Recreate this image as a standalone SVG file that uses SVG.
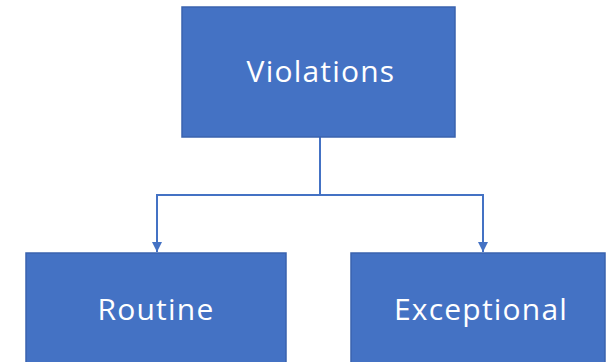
<svg xmlns="http://www.w3.org/2000/svg" width="610" height="362" viewBox="0 0 610 362">
  <defs>
    <style>
      .box { fill: #4472C4; stroke: #3A63AE; stroke-width: 1.5; }
      .label { fill: #FFFFFF; font-family: "Open Sans", "Noto Sans", sans-serif; font-size: 30px; letter-spacing: 1.2px; text-anchor: middle; }
      .link { fill: none; stroke: #4472C4; stroke-width: 2; }
    </style>
    <marker id="arrow" viewBox="0 0 10 10" refX="10" refY="5" markerWidth="5" markerHeight="5" orient="auto" markerUnits="strokeWidth">
      <path d="M0,0 L10,5 L0,10 Z" fill="#4472C4"/>
    </marker>
  </defs>

  <rect width="610" height="362" fill="#FFFFFF"/>

  <g id="connectors">
    <path class="link" d="M320,137 V195 H157 V252" marker-end="url(#arrow)"/>
    <path class="link" d="M320,195 H483 V252" marker-end="url(#arrow)"/>
  </g>

  <g id="violations">
    <rect class="box" x="182" y="7" width="273" height="130"/>
    <text class="label" x="321" y="82">Violations</text>
  </g>

  <g id="routine">
    <rect class="box" x="26" y="253" width="260" height="115"/>
    <text class="label" x="156" y="320">Routine</text>
  </g>

  <g id="exceptional">
    <rect class="box" x="351" y="253" width="254" height="115"/>
    <text class="label" x="481" y="320">Exceptional</text>
  </g>
</svg>
